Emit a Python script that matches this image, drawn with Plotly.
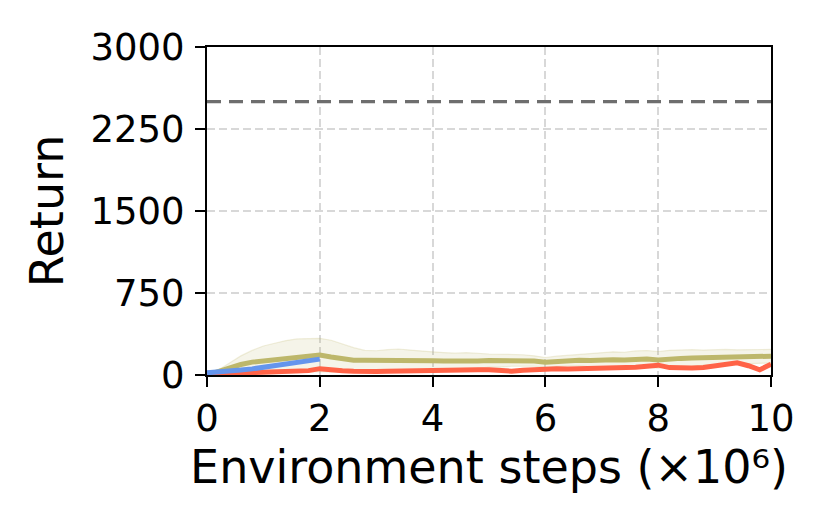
import plotly.graph_objects as go

# ── Data (returns vs env steps, x in 1e6) ──
steps = [round(i * 0.2, 1) for i in range(51)]

olive_mean = [0, 35, 70, 96, 118, 130, 140, 152, 163, 172, 182,
              165, 148, 136, 134, 135, 133, 137, 132, 130, 131,
              129, 127, 130, 128, 133, 131, 136, 134, 127, 117,
              126, 131, 135, 132, 138, 140, 137, 145, 147, 138,
              150, 152, 155, 158, 162, 164, 166, 168, 169, 172]
olive_upper = [0, 45, 110, 175, 225, 265, 290, 315, 330, 334, 335,
               318, 285, 250, 225, 222, 232, 238, 228, 218, 212,
               205, 200, 204, 196, 192, 190, 188, 185, 175, 160,
               172, 180, 184, 190, 200, 212, 208, 220, 224, 215,
               226, 230, 232, 228, 232, 234, 230, 233, 232, 234]
olive_lower = [0, 20, 25, 20, 15, 10, 12, 15, 20, 25, 30,
               25, 30, 35, 45, 48, 40, 38, 40, 42, 50,
               52, 54, 56, 60, 72, 72, 80, 82, 80, 75,
               80, 82, 86, 75, 76, 68, 66, 70, 70, 62,
               74, 74, 78, 88, 92, 94, 102, 103, 106, 110]

red_mean = [15, 20, 22, 18, 20, 22, 25, 30, 35, 40, 58,
            45, 38, 34, 30, 32, 35, 38, 36, 40, 39,
            44, 50, 52, 47, 49, 46, 35, 44, 52, 60,
            58, 55, 56, 55, 58, 62, 64, 70, 80, 90,
            68, 62, 64, 68, 80, 100, 112, 85, 48, 98]

blue_steps = [0, 0.2, 0.4, 0.6, 0.8, 1.0, 1.2, 1.4, 1.6, 1.8, 2.0]
blue_mean = [20, 26, 35, 45, 56, 70, 85, 98, 112, 126, 145]

target_return = 2500
x_ticks = [0, 2, 4, 6, 8, 10]
y_ticks = [0, 750, 1500, 2250, 3000]

OLIVE = "#bdb76b"
RED = "#ff6347"
BLUE = "#6495ed"
FONT = "DejaVu Sans"

fig = go.Figure()

# olive std band
fig.add_trace(go.Scatter(x=steps, y=olive_upper, mode="lines",
                         line=dict(color="rgba(189,183,107,0.22)", width=1.2),
                         showlegend=False, hoverinfo="skip"))
fig.add_trace(go.Scatter(x=steps, y=olive_lower, mode="lines",
                         line=dict(color="rgba(189,183,107,0.22)", width=1.2),
                         fill="tonexty", fillcolor="rgba(189,183,107,0.15)",
                         showlegend=False, hoverinfo="skip"))

fig.add_trace(go.Scatter(x=steps, y=olive_mean, mode="lines",
                         line=dict(color=OLIVE, width=5), showlegend=False))
fig.add_trace(go.Scatter(x=steps, y=red_mean, mode="lines",
                         line=dict(color=RED, width=5), showlegend=False))
fig.add_trace(go.Scatter(x=blue_steps, y=blue_mean, mode="lines",
                         line=dict(color=BLUE, width=5), showlegend=False))

# target return
fig.add_hline(y=target_return, line_dash="14px,8px", line_color="#6e6e6e", line_width=3.3)

axis_common = dict(
    showline=True, linecolor="black", linewidth=2, mirror=True,
    ticks="outside", ticklen=10, tickwidth=2, tickcolor="black",
    showgrid=True, gridcolor="#d8d8d8", griddash="8px,4px", gridwidth=1.7,
    zeroline=False,
    tickfont=dict(family=FONT, size=37, color="black"),
)

fig.update_xaxes(range=[0, 10], tickvals=x_ticks,
                 title=dict(text="Environment steps (×10⁶)",
                            font=dict(family=FONT, size=46, color="black"),
                            standoff=6),
                 **axis_common)
fig.update_yaxes(range=[0, 3000], tickvals=y_ticks, ticklabelstandoff=3,
                 title=dict(text="Return",
                            font=dict(family=FONT, size=46, color="black"),
                            standoff=12),
                 **axis_common)

fig.update_layout(
    width=830, height=519,
    margin=dict(l=199, r=67, t=39, b=152),
    paper_bgcolor="white", plot_bgcolor="white",
    font=dict(family=FONT, color="black"),
)

fig.write_html("out.html")
